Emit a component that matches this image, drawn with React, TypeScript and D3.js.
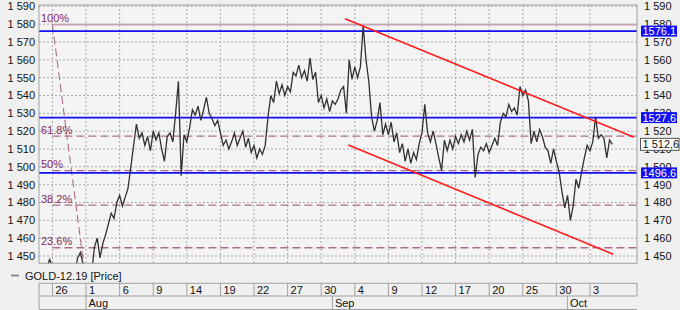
import React from "react";
import * as d3 from "d3";

// ---- data ----
const priceStartIdx = -1; // trading-day index of first bar
const priceStep = 0.25; // bars per trading-day quarter
const prices = [
  1440, 1442, 1444, 1448, 1444, 1440, 1436, 1432, 1430, 1428,
  1425, 1430, 1440, 1449, 1452, 1445, 1438, 1425, 1440, 1455,
  1460, 1449, 1457, 1462, 1468, 1474, 1471, 1480, 1484, 1478,
  1483, 1488, 1500, 1512, 1524, 1516, 1519, 1512, 1517, 1509,
  1520, 1515, 1519, 1510, 1503, 1517, 1519, 1514, 1530, 1548,
  1495, 1518, 1514, 1522, 1532, 1529, 1534, 1526, 1532, 1539,
  1530, 1527, 1523, 1526, 1519, 1512, 1515, 1510, 1514, 1519,
  1512, 1516, 1520, 1511, 1516, 1508, 1512, 1505, 1510, 1507,
  1512, 1528, 1540, 1536, 1548, 1541, 1546, 1540, 1545, 1542,
  1553, 1551, 1557, 1550, 1554, 1548, 1561, 1549, 1553, 1536,
  1540, 1533, 1538, 1531, 1537, 1535, 1538, 1543, 1545, 1530,
  1560, 1549, 1556, 1550, 1556, 1579, 1560, 1548, 1528, 1520,
  1526, 1536, 1518, 1524, 1518, 1525, 1514, 1519, 1508, 1513,
  1503, 1510, 1502, 1508, 1504, 1513, 1519, 1535, 1519, 1514,
  1520, 1513, 1505, 1498, 1515, 1509, 1515, 1510, 1517, 1513,
  1518, 1514, 1520, 1515, 1521, 1494, 1507, 1511, 1509, 1513,
  1508, 1512, 1516, 1512, 1525, 1530, 1528, 1535, 1531, 1533,
  1529, 1545, 1540, 1543, 1537, 1513, 1520, 1514, 1521, 1517,
  1511, 1509, 1502, 1510, 1503, 1497, 1486, 1477, 1484, 1470,
  1478, 1493, 1488, 1497, 1505, 1512, 1509, 1514, 1528, 1516,
  1518, 1516, 1505, 1515, 1512.6,
];

const dayTickLabels = ["26", "1", "6", "9", "14", "19", "22", "27", "30", "4", "9", "12", "17", "20", "25", "30", "3"];
const dayTickIdx = [0, 3, 6, 9, 12, 15, 18, 21, 24, 27, 30, 33, 36, 39, 42, 45, 48];
const monthLabels = ["Aug", "Sep", "Oct"];
const monthIdx = [3, 25, 46];

const priceTicks = [1450, 1460, 1470, 1480, 1490, 1500, 1510, 1520, 1530, 1540, 1550, 1560, 1570, 1580, 1590];

const levelValues = [1576.1, 1527.6, 1496.6];
const levelLabels = ["1576.1", "1527.6", "1496.6"];
const lastPrice = 1512.6;
const lastPriceLabel = "1 512,6";

const fibHigh = 1579.7;
const fibLow = 1416.0;
const fibHighIdx = 0;
const fibLowIdx = 3.4;
const fibRatios = [1, 0.618, 0.5, 0.382, 0.236];
const fibLabels = ["100%", "61.8%", "50%", "38.2%", "23.6%"];

// trend channel: [idx, price] endpoints
const upperTrend = [[26.13, 1583.0], [51.93, 1516.6]];
const lowerTrend = [[26.42, 1512.2], [50.08, 1451.0]];

const seriesName = "GOLD-12.19 [Price]";

// ---- layout ----
const W = 680;
const H = 310;
const L = 39, R = 637, T = 5, B = 263.3;
const FONT = "'Liberation Sans', Arial, sans-serif";

const fmt = (v: number) => {
  const s = String(v);
  return s.length > 3 ? s.slice(0, s.length - 3) + " " + s.slice(s.length - 3) : s;
};

export default function App() {
  const x = d3.scaleLinear().domain([-1.2, 52.2]).range([L, R]);
  const y = d3.scaleLinear().domain([1450, 1590]).range([256, 6.3]);

  const line = d3
    .line<number>()
    .x((_, i) => x(priceStartIdx + i * priceStep))
    .y((d) => y(d));

  const fibY = (r: number) => y(fibLow + r * (fibHigh - fibLow));
  const axisY1 = 283.3, axisY2 = 296, axisY3 = 309.5;

  return (
    <svg width={W} height={H} style={{ position: "absolute", left: 0, top: 0 }} fontFamily={FONT}>
      <defs>
        <clipPath id="plotclip">
          <rect x={L} y={T} width={R - L} height={B - T} />
        </clipPath>
      </defs>
      <rect x={0} y={0} width={W} height={H} fill="#f0f0f0" />
      <rect x={L} y={T} width={R - L} height={B - T} fill="#f4f4f4" />

      {/* grid */}
      {priceTicks.map((p) => (
        <line key={"hg" + p} x1={L} x2={R} y1={y(p)} y2={y(p)} stroke="#a9a9a9" strokeDasharray="2,2" />
      ))}
      {dayTickIdx.map((d, i) => (
        <line key={"vg" + i} x1={x(d)} x2={x(d)} y1={T} y2={B} stroke="#a9a9a9" strokeDasharray="2,2" />
      ))}

      <g clipPath="url(#plotclip)">
        {/* fib levels */}
        {fibRatios.map((r, i) => (
          <line
            key={"fib" + i}
            x1={x(fibHighIdx)}
            x2={R}
            y1={fibY(r)}
            y2={fibY(r)}
            stroke={r === 1 ? "#c4a2b2" : "#b06a8c"}
            strokeWidth={r === 1 ? 1.6 : 1.3}
            strokeDasharray={r === 1 ? undefined : "8,4"}
          />
        ))}
        <line
          x1={x(fibHighIdx)}
          y1={y(fibHigh)}
          x2={x(fibLowIdx)}
          y2={y(fibLow)}
          stroke="#b06a8c"
          strokeWidth={1.1}
          strokeDasharray="8,4"
        />
        {/* blue levels */}
        {levelValues.map((v, i) => (
          <line key={"lv" + i} x1={L} x2={R} y1={y(v)} y2={y(v)} stroke="#1010f5" strokeWidth={1.6} />
        ))}
        {/* price */}
        <path d={line(prices) || ""} fill="none" stroke="#303030" strokeWidth={1.3} />
        {/* trend channel */}
        {[upperTrend, lowerTrend].map((t, i) => (
          <line
            key={"tr" + i}
            x1={x(t[0][0])}
            y1={y(t[0][1])}
            x2={x(t[1][0])}
            y2={y(t[1][1])}
            stroke="#ff1c1c"
            strokeWidth={1.5}
          />
        ))}
      </g>

      {/* fib labels */}
      {fibRatios.map((r, i) => (
        <text key={"fl" + i} x={41} y={fibY(r) - 2.5} fontSize={11} fill="#86275a">
          {fibLabels[i]}
        </text>
      ))}

      {/* plot frame */}
      <rect x={L} y={T} width={R - L} height={B - T} fill="none" stroke="#a0a0a0" strokeWidth={1} />

      {/* left axis labels */}
      {priceTicks.map((p) => (
        <text key={"ly" + p} x={35} y={y(p) + 4} fontSize={11} textAnchor="end" fill="#111">
          {fmt(p)}
        </text>
      ))}
      {/* right axis labels */}
      {priceTicks.map((p) => (
        <text key={"ry" + p} x={644} y={y(p) + 4} fontSize={11} fill="#111">
          {fmt(p)}
        </text>
      ))}
      {levelValues.map((v, i) => (
        <g key={"lb" + i}>
          <rect x={641} y={y(v) - 5.5} width={36} height={11} fill="#1010f5" />
          <text x={642.5} y={y(v) + 4} fontSize={11} fill="#fff">
            {levelLabels[i]}
          </text>
        </g>
      ))}
      <rect x={640.5} y={y(lastPrice) - 6} width={38.5} height={12} fill="#fff" stroke="#555" />
      <text x={642.5} y={y(lastPrice) + 4} fontSize={11} fill="#111">
        {lastPriceLabel}
      </text>

      {/* legend */}
      <line x1={11} x2={19} y1={275.5} y2={275.5} stroke="#8a8a8a" strokeWidth={2} />
      <text x={25} y={279.5} fontSize={11} fill="#111">
        {seriesName}
      </text>

      {/* date axis */}
      <line x1={L} x2={R} y1={axisY1} y2={axisY1} stroke="#a0a0a0" />
      <line x1={L} x2={R} y1={axisY2} y2={axisY2} stroke="#a0a0a0" />
      <line x1={L} x2={R} y1={axisY3} y2={axisY3} stroke="#a0a0a0" />
      <line x1={L} x2={L} y1={axisY1} y2={axisY3} stroke="#a0a0a0" />
      <line x1={R} x2={R} y1={axisY1} y2={axisY2} stroke="#a0a0a0" />
      {dayTickIdx.map((d, i) => (
        <g key={"dt" + i}>
          <line x1={x(d)} x2={x(d)} y1={axisY1} y2={axisY2} stroke="#a0a0a0" />
          <text x={x(d) + 3} y={294} fontSize={11} fill="#111">
            {dayTickLabels[i]}
          </text>
        </g>
      ))}
      {monthIdx.map((d, i) => (
        <g key={"mt" + i}>
          <line x1={x(d)} x2={x(d)} y1={axisY2} y2={axisY3} stroke="#a0a0a0" />
          <text x={x(d) + 2.5} y={307} fontSize={11} fill="#111">
            {monthLabels[i]}
          </text>
        </g>
      ))}
    </svg>
  );
}
